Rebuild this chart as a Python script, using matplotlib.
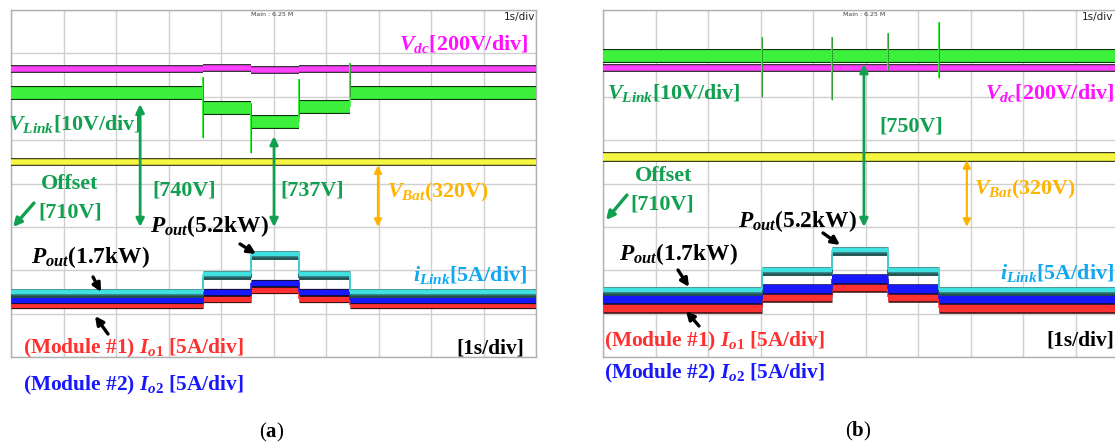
import matplotlib
matplotlib.use("Agg")
import matplotlib.pyplot as plt
import matplotlib.patheffects as pe

# =====================================================
# DATA  (time in s, levels in scope divisions from bottom)
# =====================================================

# panel (a): load steps 1.7kW -> 5.2kW -> 1.7kW
t_edges_a = [0, 3.66, 4.57, 5.49, 6.46, 10]
vdc_a = [6.64, 6.67, 6.62, 6.65, 6.64]
vlink_a = [6.08, 5.74, 5.41, 5.76, 6.08]
vbat_a = 4.49
ilink_a = [1.50, 1.91, 2.37, 1.91, 1.50]
io2_a = [1.31, 1.49, 1.70, 1.49, 1.31]
io1_a = [1.19, 1.34, 1.54, 1.34, 1.19]
spike_t_a = [3.66, 4.57, 5.49, 6.46]
spike_hi_a = [6.45, 5.85, 6.41, 6.77]
spike_lo_a = [5.05, 4.70, 5.55, 6.00]

# panel (b)
t_edges_b = [0, 3.03, 4.36, 5.43, 6.40, 10]
vdc_b = [6.66, 6.66, 6.66, 6.66, 6.66]
vlink_b = [6.93, 6.93, 6.93, 6.93, 6.93]
vbat_b = 4.61
ilink_b = [1.54, 2.00, 2.47, 2.00, 1.54]
io2_b = [1.34, 1.57, 1.80, 1.57, 1.34]
io1_b = [1.13, 1.38, 1.61, 1.38, 1.13]
spike_t_b = [3.03, 4.36, 5.43, 6.40]
spike_hi_b = [7.37, 7.37, 7.47, 7.72]
spike_lo_b = [5.99, 5.92, 6.61, 6.43]

offset_level = 3.0

# =====================================================
# STYLE
# =====================================================

W, H = 1115, 443

plt.rcParams['mathtext.fontset'] = 'custom'
plt.rcParams['mathtext.it'] = 'Liberation Serif:italic:bold'
plt.rcParams['mathtext.rm'] = 'Liberation Serif:bold'
plt.rcParams['mathtext.bf'] = 'Liberation Serif:bold'

SERIF = dict(family='Liberation Serif', weight='bold')
FS = 15.8

C_GREEN = '#3cf03c'
C_GREEN_TXT = '#10a050'
C_MAG = '#ff40ff'
C_MAG_TXT = '#ff10ff'
C_YEL = '#f5f542'
C_ORANGE = '#ffb400'
C_CYAN = '#40e0e0'
C_LINK_TXT = '#10a8f0'
C_BLUE = '#1818ff'
C_RED = '#ff3030'


def fx(x):
    return x / W


def fy(y):
    return 1 - y / H


def band(ax, edges, levels, color, lw, edge='#202020'):
    for i, lev in enumerate(levels):
        ax.hlines(lev, edges[i], edges[i + 1], color=color, lw=lw,
                  path_effects=[pe.Stroke(linewidth=lw + 1.6, foreground=edge),
                                pe.Normal()], zorder=3)
    for i in range(1, len(levels)):
        ax.vlines(edges[i], levels[i - 1], levels[i], color=color, lw=1.2, zorder=3)


def scope(ax):
    ax.set_xlim(0, 10)
    ax.set_ylim(0, 8)
    ax.set_xticks(range(11))
    ax.set_yticks(range(9))
    ax.grid(True, color='#cfcfcf', lw=1.0)
    ax.tick_params(length=0, labelbottom=False, labelleft=False)
    for s in ax.spines.values():
        s.set_color('#b0b0b0')
        s.set_linewidth(1.0)
    ax.set_axisbelow(True)


def traces(ax, edges, vdc, vlink, vbat, ilink, io2, io1, st, shi, slo, link_lw, bat_lw, cur_lw):
    band(ax, edges, vdc, C_MAG, 4.0)
    band(ax, edges, vlink, C_GREEN, link_lw, edge='#103010')
    ax.vlines(st, slo, shi, color=C_GREEN, lw=1.4, zorder=4)
    ax.vlines(st, slo, shi, color='#206020', lw=0.4, zorder=4)
    ax.axhline(vbat, color=C_YEL, lw=bat_lw, zorder=3,
               path_effects=[pe.Stroke(linewidth=bat_lw + 1.6, foreground='#303010'), pe.Normal()])
    band(ax, edges, io1, C_RED, cur_lw, edge='#401010')
    band(ax, edges, io2, C_BLUE, cur_lw, edge='#101040')
    band(ax, edges, [v - 0.09 for v in ilink], '#205050', 1.2, edge='#205050')
    band(ax, edges, ilink, C_CYAN, 3.2, edge='#307070')


fig = plt.figure(figsize=(W / 100, H / 100), dpi=100)
fig.patch.set_facecolor('white')

ax_a = fig.add_axes([fx(11), fy(357), 525 / W, 347 / H])
ax_b = fig.add_axes([fx(603), fy(357), 525 / W, 347 / H])
for ax in (ax_a, ax_b):
    scope(ax)

traces(ax_a, t_edges_a, vdc_a, vlink_a, vbat_a, ilink_a, io2_a, io1_a,
       spike_t_a, spike_hi_a, spike_lo_a, 8.5, 4.0, 3.6)
traces(ax_b, t_edges_b, vdc_b, vlink_b, vbat_b, ilink_b, io2_b, io1_b,
       spike_t_b, spike_hi_b, spike_lo_b, 8.5, 5.5, 6.0)

green_arrow = dict(arrowstyle='<|-|>', color=C_GREEN_TXT, lw=2.0, mutation_scale=12, shrinkA=0, shrinkB=0)
orange_arrow = dict(arrowstyle='<|-|>', color=C_ORANGE, lw=1.6, mutation_scale=11, shrinkA=0, shrinkB=0)

# panel (a) arrows
ax_a.annotate('', xy=(2.46, vlink_a[0] - 0.25), xytext=(2.46, offset_level), arrowprops=green_arrow)
ax_a.annotate('', xy=(5.01, vlink_a[2] - 0.32), xytext=(5.01, offset_level), arrowprops=green_arrow)
ax_a.annotate('', xy=(6.99, vbat_a - 0.07), xytext=(6.99, offset_level), arrowprops=orange_arrow)

# panel (b) arrows
ax_b.annotate('', xy=(4.97, vlink_b[0] - 0.18), xytext=(4.97, offset_level), arrowprops=green_arrow)
ax_b.annotate('', xy=(6.93, vbat_b - 0.07), xytext=(6.93, offset_level), arrowprops=orange_arrow)

black_arrow = dict(arrowstyle='-|>', color='black', lw=2.4, mutation_scale=12, shrinkA=0, shrinkB=0)
green_small = dict(arrowstyle='-|>', color=C_GREEN_TXT, lw=2.4, mutation_scale=12, shrinkA=0, shrinkB=0)


def farrow(x0, y0, x1, y1, props):
    fig.add_artist(matplotlib.patches.FancyArrowPatch(
        (fx(x0), fy(y0)), (fx(x1), fy(y1)), transform=fig.transFigure, **props))


def label(x, y, s, color, ha='left', fs=FS):
    fig.text(fx(x), fy(y), s, color=color, fontsize=fs, ha=ha, va='center', **SERIF)


# -------- panel (a) labels --------
fig.text(fx(272), fy(15), 'Main : 6.25 M', fontsize=4.5, color='#404040', ha='center', va='center')
fig.text(fx(535), fy(17), '1s/div', fontsize=7.5, color='#202020', ha='right', va='center')
label(528, 44, r'$V_{dc}$[200V/div]', C_MAG_TXT, 'right')
label(8, 124, r'$V_{Link}$[10V/div]', C_GREEN_TXT)
label(184, 190, '[740V]', C_GREEN_TXT, 'center')
label(312, 190, '[737V]', C_GREEN_TXT, 'center')
label(70, 184, 'Offset', C_GREEN_TXT, 'center')
label(70, 212, '[710V]', C_GREEN_TXT, 'center')
farrow(34, 203, 13, 227, green_small)
label(387, 192, r'$V_{Bat}$(320V)', C_ORANGE)
label(150, 226, r'$P_{out}$(5.2kW)', 'black', fs=16.8)
farrow(240, 244, 256, 254, black_arrow)
label(31, 257, r'$P_{out}$(1.7kW)', 'black', fs=16.8)
farrow(93, 277, 101, 292, black_arrow)
farrow(108, 334, 95, 316, black_arrow)
label(527, 275, r'$i_{Link}$[5A/div]', C_LINK_TXT, 'right')
label(23, 348, r'(Module #1) $I_{\mathit{o1}}$ [5A/div]', C_RED, fs=15.4)
label(23, 385, r'(Module #2) $I_{\mathit{o2}}$ [5A/div]', C_BLUE, fs=15.4)
label(524, 348, '[1s/div]', 'black', 'right', fs=15.4)
fig.text(fx(272), fy(432), r'($\mathbf{a}$)', color='black', fontsize=15, ha='center', va='center', family='Liberation Serif')

# -------- panel (b) labels --------
fig.text(fx(864), fy(15), 'Main : 6.25 M', fontsize=4.5, color='#404040', ha='center', va='center')
fig.text(fx(1113), fy(17), '1s/div', fontsize=7.5, color='#202020', ha='right', va='center')
label(607, 93, r'$V_{Link}$[10V/div]', C_GREEN_TXT)
label(1114, 93, r'$V_{dc}$[200V/div]', C_MAG_TXT, 'right')
label(911, 127, '[750V]', C_GREEN_TXT, 'center')
label(664, 176, 'Offset', C_GREEN_TXT, 'center')
label(662, 204, '[710V]', C_GREEN_TXT, 'center')
farrow(627, 195, 606, 220, green_small)
label(974, 189, r'$V_{Bat}$(320V)', C_ORANGE)
label(738, 221, r'$P_{out}$(5.2kW)', 'black', fs=16.8)
farrow(823, 233, 840, 245, black_arrow)
label(619, 254, r'$P_{out}$(1.7kW)', 'black', fs=16.8)
farrow(678, 270, 689, 287, black_arrow)
farrow(699, 326, 686, 311, black_arrow)
label(1114, 273, r'$i_{Link}$[5A/div]', C_LINK_TXT, 'right')
label(604, 341, r'(Module #1) $I_{\mathit{o1}}$ [5A/div]', C_RED, fs=15.4)
label(604, 373, r'(Module #2) $I_{\mathit{o2}}$ [5A/div]', C_BLUE, fs=15.4)
label(1114, 341, '[1s/div]', 'black', 'right', fs=15.4)
fig.text(fx(858), fy(431), r'($\mathbf{b}$)', color='black', fontsize=15, ha='center', va='center', family='Liberation Serif')

fig.savefig('out.png', dpi=100)
